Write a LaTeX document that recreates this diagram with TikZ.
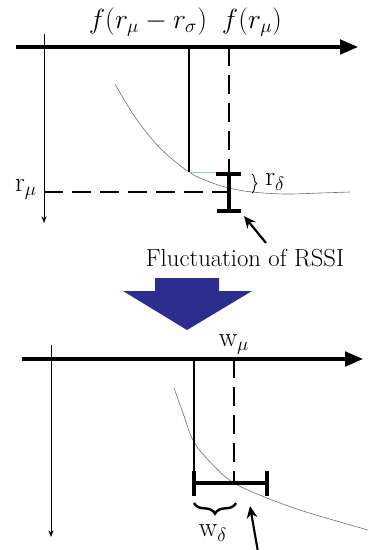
\documentclass[tikz,border=0pt]{standalone}
\usepackage{amsmath}
\usepackage{tikz}
\usetikzlibrary{arrows.meta, calc, decorations.pathreplacing}
\definecolor{arrblue}{RGB}{44,46,143}
\definecolor{curvegray}{RGB}{110,110,110}
\definecolor{lightcyan}{RGB}{140,205,225}
\tikzset{
  axis/.style={line width=2.3pt, -{Triangle[length=13.5pt, width=11pt]}},
  thinaxis/.style={line width=0.75pt, -{Stealth[length=5pt, width=3.8pt]}},
  solidln/.style={line width=1.1pt},
  dashln/.style={line width=1.6pt, dash pattern=on 14pt off 7pt},
  thindash/.style={line width=1.1pt, dash pattern=on 14pt off 7pt},
  errbar/.style={line width=2.4pt},
  curve/.style={line width=0.45pt, color=curvegray},
  pointer/.style={line width=1.6pt, -{Stealth[length=9pt, width=8pt]}},
  bigbrace/.style={decorate, decoration={brace, amplitude=8pt}, line width=1.8pt},
  smallbrace/.style={decorate, decoration={brace, amplitude=3.5pt}, line width=0.7pt},
  lbl/.style={font=\fontsize{20}{22}\selectfont, inner sep=1pt},
  sublbl/.style={font=\fontsize{21}{23}\selectfont, inner sep=1pt}
}
\begin{document}
\begin{tikzpicture}[x=0.75pt, y=-0.75pt]
  \useasboundingbox (0,0) rectangle (368,550);

  % upper plot
  \coordinate (xa1) at (16,47);
  \coordinate (xb1) at (358,47);
  \coordinate (ya1) at (44,34);
  \coordinate (yb1) at (44,223);
  \draw[axis] (xa1) -- (xb1);
  \draw[thinaxis] (ya1) -- (yb1);
  \node[lbl] (fshift) at (148,22) {$f(r_\mu - r_\sigma)$};
  \node[lbl] (fmean) at (252,22) {$f(r_\mu)$};

  \draw[curve] plot[smooth, tension=0.6] coordinates {(115,84) (135,117) (160,148) (189,172) (210,182) (229,188) (252,192) (285,194) (320,193) (350,192)};

  \coordinate (s1top) at (189,47);
  \coordinate (s1bot) at (189,172);
  \draw[solidln] (s1top) -- (s1bot);
  \coordinate (c1end) at (216,172);
  \draw[lightcyan, line width=0.6pt] (s1bot) -- (c1end);

  \coordinate (d1top) at (229,47);
  \coordinate (d1hi) at (229,174);
  \coordinate (d1lo) at (229,211);
  \draw[dashln] (d1top) -- (d1hi);
  \draw[errbar] (d1hi) -- (d1lo);
  \draw[errbar] ($(d1hi)+(-13,0)$) -- ($(d1hi)+(12,0)$);
  \draw[errbar] ($(d1lo)+(-12,0)$) -- ($(d1lo)+(12,0)$);

  \coordinate (rmu) at (44,192);
  \coordinate (rmuend) at (229,192);
  \draw[dashln] (rmu) -- (rmuend);
  \node[sublbl] (rmulbl) at (26,189) {$\mathrm{r}_{\mu}$};

  \coordinate (br1a) at (252,174);
  \coordinate (br1b) at (252,193);
  \draw[smallbrace] (br1a) -- (br1b);
  \node[sublbl] (rdelta) at (275,182) {$\mathrm{r}_{\delta}$};

  \node[font=\fontsize{18.5}{20}\selectfont] (fluct) at (245,258) {Fluctuation of RSSI};
  \coordinate (p1) at (266,243);
  \coordinate (p1tip) at (244,216);
  \draw[pointer] (p1) -- (p1tip);

  % transition arrow
  \fill[arrblue] (155,278) -- (219,278) -- (219,291) -- (252,291) -- (187,330)
    -- (123,291) -- (155,291) -- cycle;

  % lower plot
  \coordinate (xa2) at (22,359);
  \coordinate (xb2) at (363,359);
  \coordinate (ya2) at (51,345);
  \coordinate (yb2) at (51,537);
  \draw[axis] (xa2) -- (xb2);
  \draw[thinaxis] (ya2) -- (yb2);
  \node[sublbl] (wmu) at (234,344) {$\mathrm{w}_{\mu}$};

  \draw[curve] plot[smooth, tension=0.6] coordinates {(174,388) (183,413) (194,442) (213,465) (234,483) (267,498) (300,510) (333,520) (368,530)};

  \coordinate (s2top) at (194,359);
  \coordinate (s2bot) at (194,483);
  \draw[solidln] (s2top) -- (s2bot);
  \coordinate (d2top) at (234,359);
  \coordinate (d2bot) at (234,483);
  \draw[thindash] (d2top) -- (d2bot);

  \coordinate (barr) at (267,483);
  \draw[errbar] (s2bot) -- (barr);
  \draw[errbar] ($(s2bot)+(0,-12)$) -- ($(s2bot)+(0,13)$);
  \draw[errbar] ($(barr)+(0,-12)$) -- ($(barr)+(0,13)$);

  \coordinate (br2a) at (194,503);
  \coordinate (br2b) at (236,503);
  \draw[bigbrace, decoration={mirror}] (br2a) -- (br2b);
  \node[sublbl] (wdelta) at (213,533) {$\mathrm{w}_{\delta}$};

  \coordinate (p2) at (258,552);
  \coordinate (p2tip) at (250,506);
  \draw[pointer] (p2) -- (p2tip);
\end{tikzpicture}
\end{document}
